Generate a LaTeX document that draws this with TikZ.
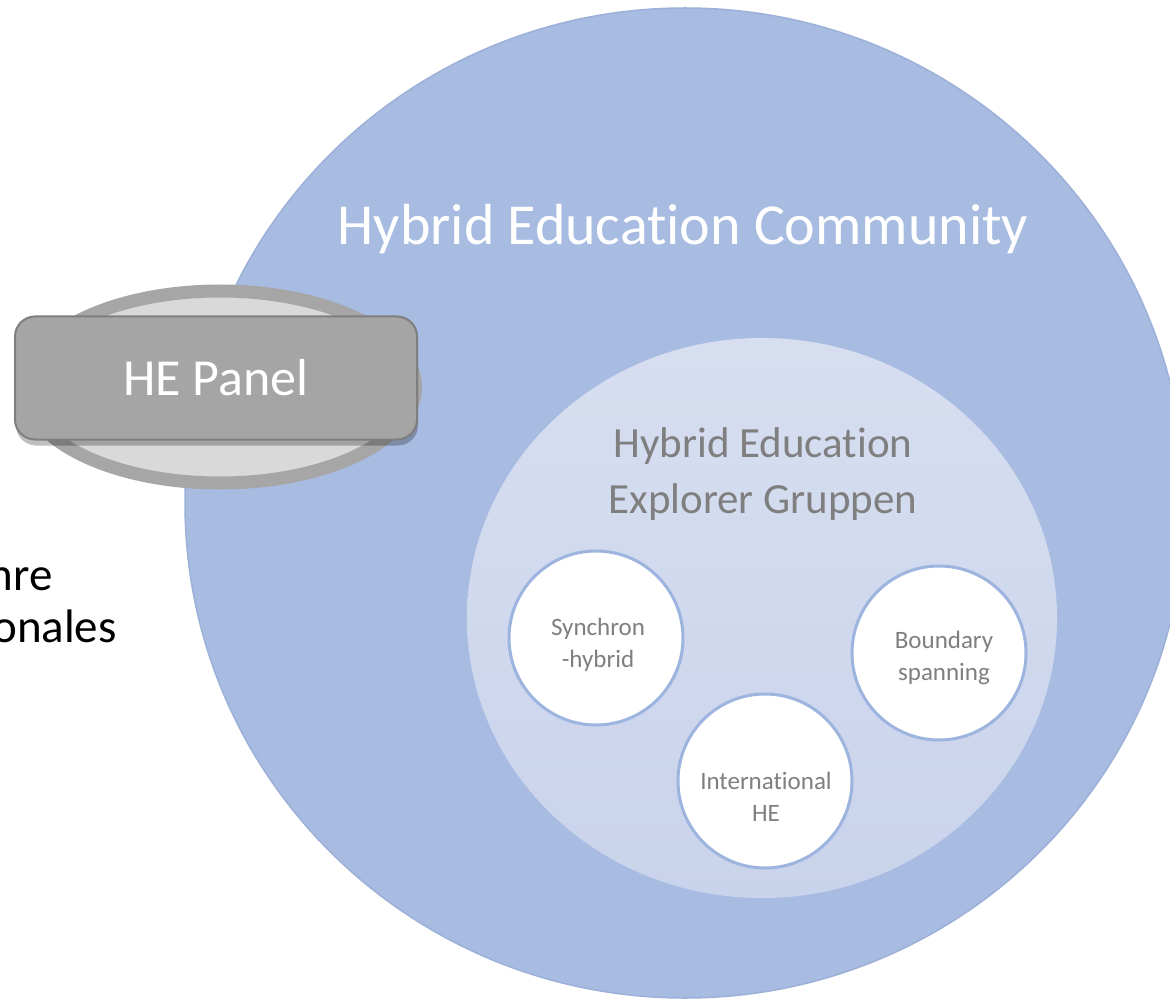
\documentclass[tikz,border=0pt]{standalone}
\usepackage{fontspec}
\setmainfont{Carlito}[Ligatures=NoCommon]
\usetikzlibrary{shapes.geometric,shadows}

\definecolor{communityblue}{HTML}{A8BCE2}
\definecolor{communityline}{HTML}{9CB0D8}
\definecolor{explorertop}{HTML}{D7DEF0}
\definecolor{explorerbottom}{HTML}{C9D3EB}
\definecolor{groupline}{HTML}{9DB4DF}
\definecolor{textgray}{HTML}{7F7F7F}
\definecolor{panelfill}{HTML}{A5A5A5}
\definecolor{panelline}{HTML}{7F7F7F}
\definecolor{ringgray}{HTML}{A6A6A6}
\definecolor{ringfill}{HTML}{D9D9D9}

\begin{document}
\begin{tikzpicture}[x=1pt,y=-1pt,
  group/.style={circle,draw=groupline,line width=3pt,fill=white,minimum size=174pt,inner sep=0pt},
  grouptext/.style={text=textgray,align=center,inner sep=0pt,font=\fontsize{25}{32}\selectfont},
  sidetext/.style={anchor=base east,inner sep=0pt,font=\fontsize{47}{56}\selectfont}]
\useasboundingbox (0,0) rectangle (1170,1000);
\clip (0,0) rectangle (1170,1000);
\fill[white] (0,0) rectangle (1170,1000);
\node[sidetext] (jahre) at (53,590) {hre};
\node[sidetext] (internationales) at (117,642) {onales};
\node[ellipse,draw=communityline,line width=1.5pt,fill=communityblue,
  minimum width=1000pt,minimum height=990pt,inner sep=0pt] (community) at (685,503) {};
\node[anchor=base,text=white,inner sep=0pt,font=\fontsize{58}{70}\selectfont]
  (communitytext) at (683,245) {Hybrid Education Community};
\node[ellipse,top color=explorertop,bottom color=explorerbottom,
  minimum width=590pt,minimum height=560pt,inner sep=0pt] (explorer) at (762,618) {};
\node[text=textgray,align=center,inner sep=0pt,font=\fontsize{43}{56}\selectfont]
  (explorertext) at (763,474) {Hybrid Education\\Explorer Gruppen};
\node[group] (synchron) at (596,638) {};
\node[group] (boundary) at (939,653) {};
\node[group] (international) at (765,781) {};
\node[grouptext] (synchrontext) at (598,645) {Synchron\\-hybrid};
\node[grouptext] (boundarytext) at (944,658) {Boundary\\spanning};
\node[grouptext] (internationaltext) at (766,797) {International\\HE};
\node[ellipse,draw=ringgray,line width=13pt,fill=ringfill,
  minimum width=391pt,minimum height=192pt,inner sep=0pt] (panelring) at (220,387) {};
\node[rectangle,rounded corners=20pt,draw=panelline,line width=2pt,fill=panelfill,
  minimum width=402pt,minimum height=123pt,text=white,font=\fontsize{52}{62}\selectfont,
  drop shadow={shadow xshift=1pt,shadow yshift=-6pt,opacity=.25,fill=black}]
  (panel) at (216,378) {HE Panel};
\end{tikzpicture}
\end{document}
